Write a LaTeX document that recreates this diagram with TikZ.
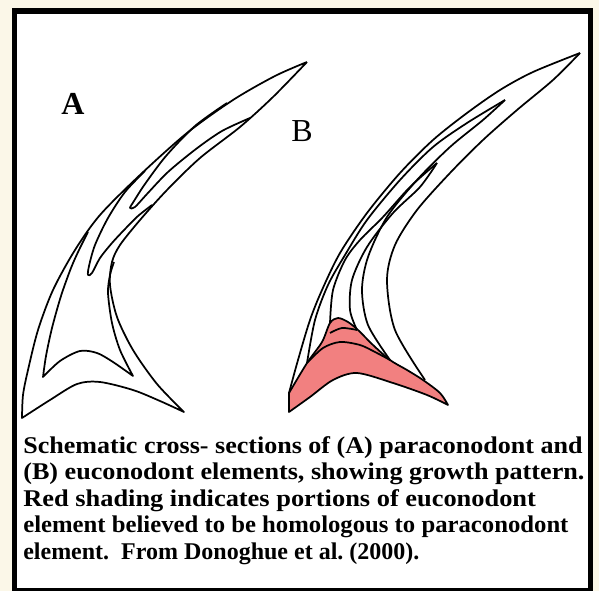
\documentclass[tikz,border=0pt]{standalone}
\usepackage{fontspec}
\setmainfont{Liberation Serif}
\definecolor{paper}{RGB}{251,247,232}
\definecolor{basal}{RGB}{242,128,128}

\begin{document}
\begin{tikzpicture}[x=0.75pt, y=-0.75pt,
    outline/.style={draw=black, line width=1.3pt, line join=round},
    label/.style={inner sep=0pt, font=\fontsize{24}{24}\selectfont},
    capline/.style={anchor=base west, inner sep=0pt, transform shape,
                    font=\bfseries\fontsize{18}{20}\selectfont}
]
% frame
\fill[paper] (0,0) rectangle (599,591);
\fill[black] (12,8) rectangle (593,591);
\fill[white] (17,14) rectangle (588,588);
\useasboundingbox (0,0) rectangle (599,591);

% A: paraconodont, outer surface
\draw[outline] plot[smooth] coordinates {(307,62) (275,76) (233,100) (187,133) (140,175) (100,215) (75,250) (53,290) (38,330) (28,370) (23,395) (22,418)}
  -- plot[smooth] coordinates {(22,418) (50,400) (77,384) (100,382) (133,390) (160,401) (184,412)}
  -- plot[smooth] coordinates {(184,412) (157,384) (133,350) (117,317) (110,285) (112,262) (120,245) (140,220) (167,190) (200,158) (240,127) (273,97) (307,62)};
% inner lamella with its base
\draw[outline] plot[smooth] coordinates {(88,232) (79,250) (71,268) (61,296) (52,328) (46,356) (43,377)}
  -- plot[smooth] coordinates {(43,377) (60,361) (80,351) (97,353) (113,362) (133,376)}
  -- plot[smooth] coordinates {(133,376) (120,350) (112,323) (108,293) (110,275) (114,262)};
% growth lines near the cusp
\draw[outline] plot[smooth] coordinates {(227,103) (195,126) (166,156) (145,184) (134,201) (130,208) (135,207) (147,194) (168,172) (196,149) (222,131) (250,118)};
\draw[outline] plot[smooth] coordinates {(145,171) (125,192) (108,218) (95,245) (89,266) (88,275) (92,273) (100,258) (112,243) (126,228) (138,216) (152,205)};

% B: euconodont, basal body first
\filldraw[basal, draw=black, line width=1.3pt, line join=round]
  plot[smooth] coordinates {(289,412) (310,397) (333,380) (357,373) (393,383) (427,395) (448,405)}
  -- plot[smooth] coordinates {(448,405) (440,393) (423,380) (407,370) (390,360) (373,345) (358,330) (348,322) (338,318) (330,323) (322,342) (307,363) (289,393)}
  -- cycle;
\draw[outline] plot[smooth] coordinates {(330,333) (342,328) (357,330)};
\draw[outline] plot[smooth] coordinates {(307,363) (323,348) (340,342) (360,345) (375,352) (390,360)};

% B: crown growth stages
\draw[outline] plot[smooth] coordinates {(289,393) (298,360) (310,320) (322,290) (340,253) (367,213) (400,173) (433,140) (467,113) (500,90) (533,72) (580,53)};
\draw[outline] plot[smooth] coordinates {(580,53) (553,80) (517,110) (483,140) (450,173) (417,210) (395,245) (387,280) (395,330) (425,380)};
\draw[outline] plot[smooth] coordinates {(307,363) (315,320) (328,285) (345,255) (367,220) (400,180) (433,147) (467,123) (505,100)};
\draw[outline] plot[smooth] coordinates {(505,100) (483,120) (450,147) (417,180) (387,217) (368,257) (362,290) (368,325) (390,360)};
\draw[outline] plot[smooth] coordinates {(330,323) (333,290) (345,260) (360,240) (383,217) (410,187) (437,163)};
\draw[outline] plot[smooth] coordinates {(437,163) (420,187) (393,213) (367,247) (352,280) (350,310) (357,330)};

% labels and caption
\node[label, font=\bfseries\fontsize{24}{24}\selectfont] (labA) at (73,104) {A};
\node[label] (labB) at (302,131) {B};
\node[capline, xscale=1.085] (cap1) at (23,453) {Schematic cross- sections of (A) paraconodont and};
\node[capline, xscale=1.09] (cap2) at (23,479) {(B) euconodont elements, showing growth pattern.};
\node[capline, xscale=1.10] (cap3) at (23,506) {Red shading indicates portions of euconodont};
\node[capline, xscale=1.03] (cap4) at (23,532) {element believed to be homologous to paraconodont};
\node[capline, xscale=1.0] (cap5) at (23,559) {element.\ \ From Donoghue et al.\ (2000).};
\end{tikzpicture}
\end{document}
